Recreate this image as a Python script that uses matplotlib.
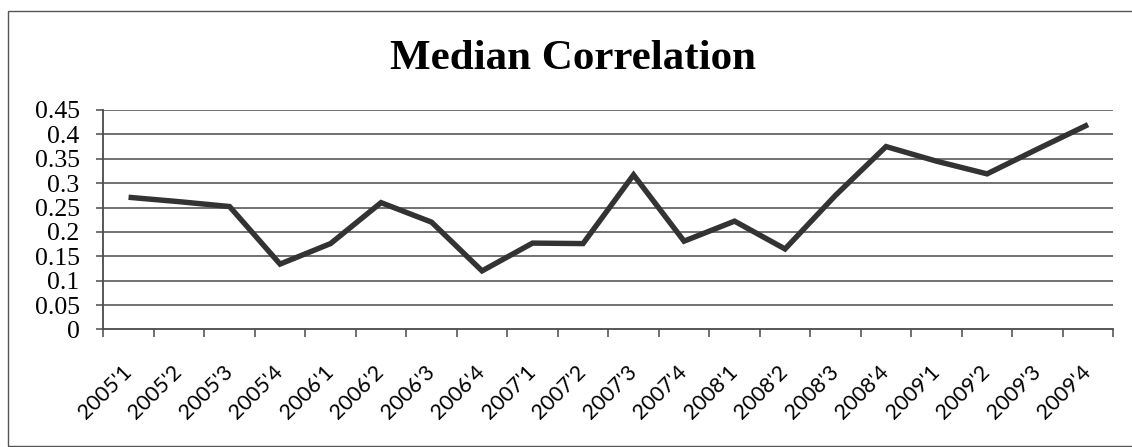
import matplotlib
matplotlib.use("Agg")
import matplotlib.pyplot as plt
import matplotlib.transforms as mtransforms
from matplotlib.patches import Rectangle
from matplotlib.ticker import FixedLocator

# Quarterly median correlation, 2005Q1 - 2009Q4
quarters = ["2005'1", "2005'2", "2005'3", "2005'4",
            "2006'1", "2006'2", "2006'3", "2006'4",
            "2007'1", "2007'2", "2007'3", "2007'4",
            "2008'1", "2008'2", "2008'3", "2008'4",
            "2009'1", "2009'2", "2009'3", "2009'4"]
median_corr = [0.271, 0.262, 0.252, 0.134,
               0.176, 0.260, 0.220, 0.120,
               0.177, 0.176, 0.317, 0.181,
               0.222, 0.165, 0.275, 0.375,
               0.345, 0.319, 0.370, 0.420]
y_ticks = [0, 0.05, 0.1, 0.15, 0.2, 0.25, 0.3, 0.35, 0.4, 0.45]
y_tick_labels = ["0", "0.05", "0.1", "0.15", "0.2", "0.25", "0.3", "0.35", "0.4", "0.45"]
title = "Median Correlation"

W, H, DPI = 1132, 447, 100
fig = plt.figure(figsize=(W / DPI, H / DPI), dpi=DPI)
fig.patch.set_facecolor("white")

# plot area in pixel terms
left_px, right_px, top_px, bottom_px = 103.3, 1113.3, 110.0, 329.4
ax = fig.add_axes([left_px / W, 1 - bottom_px / H,
                   (right_px - left_px) / W, (bottom_px - top_px) / H])

grid_col = "#4a4a4a"
line_col = "#333333"

x = list(range(len(quarters)))
ax.set_xlim(-0.5, len(quarters) - 0.5)
ax.set_ylim(0, 0.45)

for v in y_ticks[1:]:
    ax.axhline(v, color=grid_col, lw=1.1, zorder=1)

ax.plot(x, median_corr, color=line_col, lw=3.9, solid_joinstyle="miter",
        solid_capstyle="butt", zorder=3)

for side in ["top", "right"]:
    ax.spines[side].set_visible(False)
for side in ["left", "bottom"]:
    ax.spines[side].set_color(grid_col)
    ax.spines[side].set_linewidth(1.3)

ax.set_yticks(y_ticks)
ax.set_yticklabels(y_tick_labels, family="Liberation Serif", fontsize=18.5)
ax.tick_params(axis="y", length=5, width=1.1, color=grid_col, pad=12)

# category boundary tick marks
ax.xaxis.set_minor_locator(FixedLocator([i - 0.5 for i in range(len(quarters) + 1)]))
ax.tick_params(axis="x", which="minor", length=6, width=1.1, color=grid_col)
ax.set_xticks(x)
ax.set_xticklabels(quarters, family="Lato", fontsize=15.5, rotation=45,
                   ha="right", va="top")
ax.tick_params(axis="x", which="major", length=0, pad=23)
offset = mtransforms.ScaledTranslation(7 / DPI, 0, fig.dpi_scale_trans)
for lbl in ax.get_xticklabels():
    lbl.set_transform(lbl.get_transform() + offset)

fig.text(573 / W, 1 - 69.3 / H, title, family="Liberation Serif",
         fontweight="bold", fontsize=31, ha="center", va="baseline")

# chart-area border
fig.add_artist(Rectangle((8 / W, 1 - 446 / H), (W + 20) / W, (446 - 11) / H,
                         transform=fig.transFigure, fill=False,
                         edgecolor="#555555", lw=1.0))

fig.savefig("out.png", dpi=DPI, facecolor="white")
